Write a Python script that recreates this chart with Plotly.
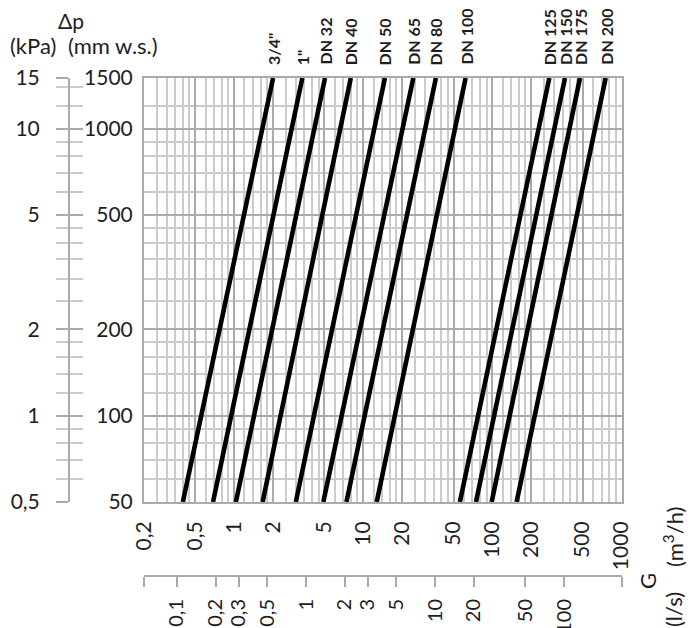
import numpy as np
import plotly.graph_objects as go

# ---------------- data ----------------
sizes = ['3/4"', '1"', "DN 32", "DN 40", "DN 50", "DN 65", "DN 80", "DN 100",
         "DN 125", "DN 150", "DN 175", "DN 200"]
# flow G (m3/h) at the lowest and highest pressure drop of each curve
g_low = [0.40, 0.685, 1.03, 1.66, 3.0, 4.9, 7.4, 12.7, 56.0, 74.6, 98.7, 154.0]
g_high = [2.0, 3.37, 5.05, 8.0, 14.7, 24.4, 36.5, 62.0, 276.0, 365.0, 477.0, 754.0]
dp_low = 50      # mm w.s.
dp_high = 1500   # mm w.s.

x_range = [0.2, 1000]      # m3/h
y_range = [50, 1500]       # mm w.s.
kpa_range = [0.5, 15]      # kPa

x_ticks = [0.2, 0.5, 1, 2, 5, 10, 20, 50, 100, 200, 500, 1000]
x_ticktext = ["0,2", "0,5", "1", "2", "5", "10", "20", "50", "100", "200", "500", "1000"]
y_ticks = [50, 100, 200, 500, 1000, 1500]
y_ticktext = ["50", "100", "200", "500", "1000", "1500"]
kpa_ticks = [0.5, 1, 2, 5, 10, 15]
kpa_ticktext = ["0,5", "1", "2", "5", "10", "15"]
kpa_minor = [0.6, 0.7, 0.8, 0.9, 1.2, 1.4, 1.6, 1.8, 2.5, 3, 3.5, 4, 4.5,
             6, 7, 8, 9, 12, 14]
ls_ticks = [0.1, 0.2, 0.3, 0.5, 1, 2, 3, 5, 10, 20, 50, 100]
ls_ticktext = ["0,1", "0,2", "0,3", "0,5", "1", "2", "3", "5", "10", "20", "50", "100"]
grid_mantissas = [1.2, 1.4, 1.6, 1.8, 2.5, 3, 3.5, 4, 4.5, 6, 7, 8, 9]
y_minor = [60, 70, 80, 90, 120, 140, 160, 180, 250, 300, 350, 400, 450,
           600, 700, 800, 900, 1200]
m3h_per_ls = 3.6

# ---------------- derived grid values ----------------
x_minor = [m * 10.0 ** d for d in range(-1, 3) for m in grid_mantissas]
x_minor = [v for v in x_minor if x_range[0] < v < x_range[1]]
ls_range = [x_range[0] / m3h_per_ls, x_range[1] / m3h_per_ls]

# the page body adds an 8 px margin, so the figure is drawn 8 px in
OFF = 8
W, H = 700 - OFF, 628 - OFF
def px(x):
    return (x - OFF) / W
def py(y):
    return 1 - (y - OFF) / H

FONT = "Lato"
TXT = "#1e1e1e"
MAJ = "#a9a9ae"
MIN = "#cbcbcf"

x_dom = [px(144), px(621.5)]
y_dom = [py(502), py(78)]

fig = go.Figure()

for name, g0, g1 in zip(sizes, g_low, g_high):
    fig.add_trace(go.Scatter(x=[g0, g1], y=[dp_low, dp_high], mode="lines",
                             line=dict(color="black", width=4.6),
                             name=name, showlegend=False, hoverinfo="skip"))

# invisible helper traces so the secondary axes are drawn
fig.add_trace(go.Scatter(x=[x_range[0], x_range[1]], y=kpa_range, yaxis="y2",
                         mode="markers", marker=dict(opacity=0),
                         showlegend=False, hoverinfo="skip"))
fig.add_trace(go.Scatter(x=[x_range[0], x_range[1]], y=kpa_range, yaxis="y3",
                         mode="markers", marker=dict(opacity=0),
                         showlegend=False, hoverinfo="skip"))
fig.add_trace(go.Scatter(x=ls_range, y=y_range, xaxis="x2",
                         mode="markers", marker=dict(opacity=0),
                         showlegend=False, hoverinfo="skip"))

tickfont = dict(family=FONT, size=21, color=TXT)

fig.update_layout(
    width=W, height=H, autosize=False,
    margin=dict(l=0, r=0, t=0, b=0, autoexpand=False),
    paper_bgcolor="white", plot_bgcolor="white",
    showlegend=False,
    xaxis=dict(
        type="log", domain=x_dom, automargin=False,
        range=[np.log10(x_range[0]), np.log10(x_range[1])],
        tickvals=x_ticks, ticktext=x_ticktext, tickangle=-90,
        tickfont=tickfont, ticks="", ticklabelstandoff=9,
        showgrid=True, gridcolor=MAJ, gridwidth=2,
        minor=dict(tickvals=x_minor, showgrid=True, gridcolor=MIN, gridwidth=1.5, ticks=""),
        showline=True, mirror=True, linecolor=MAJ, linewidth=2,
        zeroline=False, fixedrange=True,
    ),
    yaxis=dict(
        type="log", domain=y_dom, automargin=False,
        range=[np.log10(y_range[0]), np.log10(y_range[1])],
        tickvals=y_ticks, ticktext=y_ticktext,
        tickfont=tickfont, ticks="", ticklabelstandoff=5,
        showgrid=True, gridcolor=MAJ, gridwidth=2,
        minor=dict(tickvals=y_minor, showgrid=True, gridcolor=MIN, gridwidth=1.5, ticks=""),
        showline=True, mirror=True, linecolor=MAJ, linewidth=2,
        zeroline=False, fixedrange=True,
    ),
    yaxis2=dict(
        type="log", overlaying="y", anchor="free", position=px(69), side="left",
        automargin=False,
        range=[np.log10(kpa_range[0]), np.log10(kpa_range[1])],
        tickvals=kpa_ticks, ticktext=kpa_ticktext, tickfont=tickfont,
        ticks="outside", ticklen=12, tickwidth=2, tickcolor=MAJ,
        ticklabelstandoff=12,
        minor=dict(tickvals=kpa_minor, ticks="outside", ticklen=12, tickwidth=2,
                   tickcolor=MIN, showgrid=False),
        showgrid=False, showline=True, linecolor=MAJ, linewidth=2,
        zeroline=False, fixedrange=True,
    ),
    yaxis3=dict(
        type="log", overlaying="y", anchor="free", position=px(69), side="left",
        automargin=False,
        range=[np.log10(kpa_range[0]), np.log10(kpa_range[1])],
        tickvals=kpa_ticks, showticklabels=False,
        ticks="inside", ticklen=13, tickwidth=2, tickcolor=MAJ,
        minor=dict(tickvals=kpa_minor, ticks="inside", ticklen=13, tickwidth=2,
                   tickcolor=MIN, showgrid=False),
        showgrid=False, showline=False, zeroline=False, fixedrange=True,
    ),
    xaxis2=dict(
        type="log", overlaying="x", anchor="free", position=py(576), side="bottom",
        automargin=False,
        range=[np.log10(ls_range[0]), np.log10(ls_range[1])],
        tickvals=ls_ticks, ticktext=ls_ticktext,
        tickangle=-90, tickfont=dict(family=FONT, size=20, color=TXT),
        ticks="outside", ticklen=10, tickwidth=2, tickcolor=MAJ,
        ticklabelstandoff=4,
        minor=dict(tickvals=ls_range, ticks="outside", ticklen=10, tickwidth=2,
                   tickcolor=MAJ, showgrid=False),
        showgrid=False, showline=True, linecolor=MAJ, linewidth=2,
        zeroline=False, fixedrange=True,
    ),
)

# size labels above the top of each curve
for name, g1 in zip(sizes, g_high):
    fig.add_annotation(x=np.log10(g1), y=py(67), xref="x", yref="paper",
                       text="<b>%s</b>" % name, showarrow=False, textangle=-90,
                       xanchor="center", yanchor="bottom",
                       font=dict(family=FONT, size=16, color=TXT))

titlefont = dict(family=FONT, size=22, color=TXT)
fig.add_annotation(x=px(71), y=py(20), xref="paper", yref="paper", text="Δp",
                   showarrow=False, font=dict(family=FONT, size=21, color=TXT),
                   xanchor="center", yanchor="middle")
fig.add_annotation(x=px(33), y=py(45), xref="paper", yref="paper", text="(kPa)",
                   showarrow=False, font=titlefont, xanchor="center", yanchor="middle")
fig.add_annotation(x=px(113), y=py(45), xref="paper", yref="paper", text="(mm w.s.)",
                   showarrow=False, font=titlefont, xanchor="center", yanchor="middle")
fig.add_annotation(x=px(673), y=py(537), xref="paper", yref="paper",
                   text="(m<sup>3</sup>/h)", textangle=-90,
                   showarrow=False, font=titlefont, xanchor="center", yanchor="middle")
fig.add_annotation(x=px(647), y=py(581), xref="paper", yref="paper", text="G",
                   textangle=-90, showarrow=False, font=titlefont,
                   xanchor="center", yanchor="middle")
fig.add_annotation(x=px(673), y=py(610), xref="paper", yref="paper", text="(l/s)",
                   textangle=-90, showarrow=False, font=titlefont,
                   xanchor="center", yanchor="middle")

fig.write_html("out.html")
